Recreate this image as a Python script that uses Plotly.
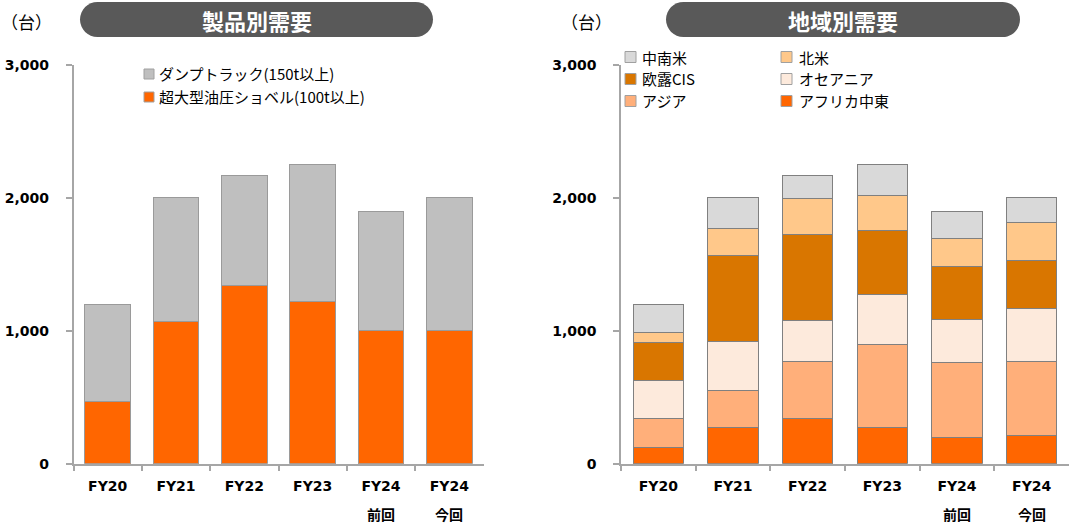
import plotly.graph_objects as go

W, H = 1069, 524

# ---------------- data ----------------
categories = ["FY20", "FY21", "FY22", "FY23", "FY24前回", "FY24今回"]
tick_main = ["FY20", "FY21", "FY22", "FY23", "FY24", "FY24"]
tick_sub = ["", "", "", "", "前回", "今回"]

# product demand (units)
excavator = [470, 1070, 1340, 1220, 1000, 1000]      # 超大型油圧ショベル(100t以上)
dump_truck = [730, 930, 830, 1030, 900, 1000]        # ダンプトラック(150t以上)
product_names = ["超大型油圧ショベル(100t以上)", "ダンプトラック(150t以上)"]

# regional demand (units), stacked bottom -> top
africa_me = [120, 270, 340, 270, 200, 215]
asia = [220, 280, 430, 625, 560, 550]
oceania = [285, 370, 310, 380, 325, 405]
cis = [285, 645, 645, 475, 395, 355]
north_america = [75, 205, 270, 265, 210, 285]
latin_america = [215, 230, 175, 235, 210, 190]
region_names = ["アフリカ中東", "アジア", "オセアニア", "欧露CIS", "北米", "中南米"]

y_ticks = [0, 1000, 2000, 3000]
titles = ["製品別需要", "地域別需要"]
unit_label = "（台）"

# ---------------- styles ----------------
C_EXC = "#FF6600"
C_DUMP = "#BFBFBF"
region_colors = ["#FF6600", "#FFAF7A", "#FDEADC", "#D97600", "#FFC88A", "#D9D9D9"]
AXIS_C = "#A6A6A6"
TICK_FONT = dict(family="DejaVu Sans", size=14, color="#000000", weight="bold")
CJK = "Noto Sans CJK JP"


def px(x):
    return x / W


def py(y):
    return 1 - y / H


fig = go.Figure()

# left chart
fig.add_trace(go.Bar(x=categories, y=excavator, name=product_names[0], xaxis="x", yaxis="y",
                     marker=dict(color=C_EXC, line=dict(color="#9A9A9A", width=1)), showlegend=False))
fig.add_trace(go.Bar(x=categories, y=dump_truck, name=product_names[1], xaxis="x", yaxis="y",
                     marker=dict(color=C_DUMP, line=dict(color="#9A9A9A", width=1)), showlegend=False))

# right chart
for vals, nm, col in zip([africa_me, asia, oceania, cis, north_america, latin_america], region_names, region_colors):
    fig.add_trace(go.Bar(x=categories, y=vals, name=nm, xaxis="x2", yaxis="y2",
                         marker=dict(color=col, line=dict(color="#808080", width=1)), showlegend=False))

y_dom = [py(463.7), py(64.7)]
xa_common = dict(type="category", showline=True, linecolor=AXIS_C, linewidth=1.5, automargin=False,
                 ticks="outside", tickson="boundaries", ticklen=6, tickcolor=AXIS_C, tickwidth=1.5,
                 tickmode="array", tickvals=categories, ticktext=tick_main, tickfont=TICK_FONT,
                 showgrid=False, zeroline=False, fixedrange=True, ticklabelstandoff=9)
ya_common = dict(range=[0, 3000], domain=y_dom, showline=True, linecolor=AXIS_C, linewidth=1.5,
                 automargin=False,
                 ticks="outside", ticklen=6, tickcolor=AXIS_C, tickwidth=1.5,
                 tickmode="array", tickvals=y_ticks, tickformat=",d", tickfont=TICK_FONT,
                 showgrid=False, zeroline=False, ticklabelstandoff=14)

fig.update_layout(
    width=W, height=H, margin=dict(l=0, r=0, t=0, b=0, pad=0, autoexpand=False),
    paper_bgcolor="white", plot_bgcolor="white",
    barmode="stack", bargap=0.33, showlegend=False,
    xaxis=dict(domain=[px(73.5), px(483.5)], anchor="y", **xa_common),
    yaxis=dict(anchor="x", **ya_common),
    xaxis2=dict(domain=[px(621), 1.0], anchor="y2", **xa_common),
    yaxis2=dict(anchor="x2", **ya_common),
)

shapes = []
annotations = []


def pill(x0, x1, y0, y1, color):
    r = (y1 - y0) / 2
    k = 0.5523 * r
    pts = [
        ("M", [(x0 + r, y0)]),
        ("L", [(x1 - r, y0)]),
        ("C", [(x1 - r + k, y0), (x1, y0 + r - k), (x1, y0 + r)]),
        ("C", [(x1, y0 + r + k), (x1 - r + k, y1), (x1 - r, y1)]),
        ("L", [(x0 + r, y1)]),
        ("C", [(x0 + r - k, y1), (x0, y0 + r + k), (x0, y0 + r)]),
        ("C", [(x0, y0 + r - k), (x0 + r - k, y0), (x0 + r, y0)]),
    ]
    path = ""
    for cmd, ps in pts:
        path += cmd + " " + " ".join(f"{px(a):.5f},{py(b):.5f}" for a, b in ps) + " "
    path += "Z"
    return dict(type="path", xref="paper", yref="paper", path=path, fillcolor=color,
                line=dict(width=0), layer="above")


# title pills
for (x0, x1), t in zip([(80, 433), (666, 1020)], titles):
    shapes.append(pill(x0, x1, 2, 37, "#595959"))
    annotations.append(dict(xref="paper", yref="paper", x=px((x0 + x1) / 2), y=py(20.5),
                            text=t, showarrow=False, xanchor="center", yanchor="middle",
                            font=dict(family=CJK, size=22, color="white", weight="bold")))

# unit labels
for xc in [26.5, 586.5]:
    annotations.append(dict(xref="paper", yref="paper", x=px(xc), y=py(21), text=unit_label,
                            showarrow=False, xanchor="center", yanchor="middle",
                            font=dict(family=CJK, size=17, color="#000000")))

# sub tick labels (前回 / 今回)
for xr in ["x", "x2"]:
    for c, s in zip(categories, tick_sub):
        if s:
            annotations.append(dict(xref=xr, yref="paper", x=c, y=py(514), text=s, showarrow=False,
                                    xanchor="center", yanchor="middle",
                                    font=dict(family=CJK, size=14, color="#000000", weight="bold")))


def legend_item(xs, yc, size, color, text, xt, fsize):
    shapes.append(dict(type="rect", xref="paper", yref="paper",
                       x0=px(xs), x1=px(xs + size), y0=py(yc + size / 2), y1=py(yc - size / 2),
                       fillcolor=color, line=dict(color="#A0A0A0", width=1)))
    annotations.append(dict(xref="paper", yref="paper", x=px(xt), y=py(yc), text=text,
                            showarrow=False, xanchor="left", yanchor="middle",
                            font=dict(family=CJK, size=fsize, color="#000000")))


# left legend (top: dump truck, below: excavator)
legend_item(144, 74, 10, C_DUMP, product_names[1], 157, 15)
legend_item(144, 97, 10, C_EXC, product_names[0], 157, 15)

# right legend (2 columns, row-major, reversed stack order)
order = [5, 4, 3, 2, 1, 0]
col_x = [(625, 640), (781, 797)]
row_y = [57, 79, 101]
for i, idx in enumerate(order):
    r, c = divmod(i, 2)
    legend_item(col_x[c][0], row_y[r], 11, region_colors[idx], region_names[idx], col_x[c][1], 15)

fig.update_layout(shapes=shapes, annotations=annotations)

fig.write_html("out.html")
